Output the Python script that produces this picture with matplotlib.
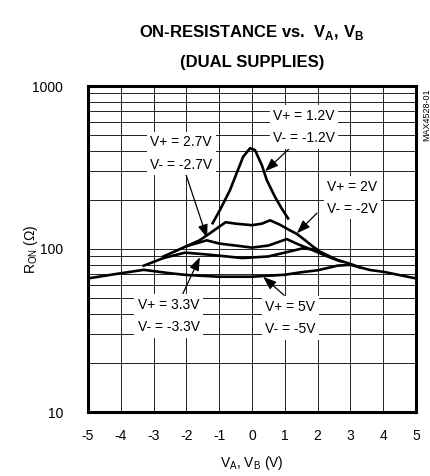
import numpy as np
import matplotlib
matplotlib.use("Agg")
import matplotlib.pyplot as plt
from matplotlib import font_manager

# fonts: narrow helvetica-like if available
names = {f.name for f in font_manager.fontManager.ttflist}
narrow = "Liberation Sans Narrow" if "Liberation Sans Narrow" in names else "Liberation Sans"
plt.rcParams["font.family"] = ["Liberation Sans", "DejaVu Sans"]
plt.rcParams["mathtext.fontset"] = "custom"
plt.rcParams["mathtext.rm"] = "Liberation Sans"
plt.rcParams["mathtext.bf"] = narrow + ":bold"

# data (x = V_A, V_B in volts, R = on-resistance in ohms)
x_12 = [-1.2, -0.98, -0.67, -0.47, -0.27, -0.06, 0.09, 0.3, 0.45, 0.7, 0.9, 1.1]
r_12 = [144, 173, 230, 291, 368, 415, 405, 327, 265, 209, 178, 154]

x_20 = [-2.0, -1.6, -1.28, -1.0, -0.8, -0.5, 0.0, 0.3, 0.55, 0.85, 1.1, 1.36, 1.6, 1.87, 2.0]
r_20 = [104, 113, 125, 137, 146, 143, 140, 143, 150, 141, 132, 124, 114, 103, 99]

x_27 = [-2.7, -2.0, -1.38, -1.0, -0.5, 0.0, 0.5, 1.06, 1.4, 1.87, 2.3, 2.7]
r_27 = [90, 104, 113, 108, 105, 102, 105, 115, 107, 98, 90, 84]

x_33 = [-3.3, -2.7, -2.04, -1.5, -1.0, -0.3, 0.5, 1.0, 1.55, 1.95, 2.58, 3.0, 3.3]
r_33 = [79, 88, 95, 93, 91, 88, 90, 95, 101, 99, 86, 81, 77]

x_50 = [-5, -4.2, -3.3, -2.5, -2.0, -1.0, 0.0, 1.0, 1.5, 2.0, 2.6, 3.0, 3.6, 4.0, 5]
r_50 = [66, 70, 74.5, 71, 69.3, 67.6, 67.6, 69.5, 72, 74, 79, 80, 74.3, 72.5, 66]

x_ticks = [-5, -4, -3, -2, -1, 0, 1, 2, 3, 4, 5]
y_ticks = [10, 100, 1000]

# labels: text, text position, arrow tail, arrow head
labels = [
    ("V+ = 1.2V\nV- = -1.2V", (0.64, 560), (1.16, 417), (0.40, 300)),
    ("V+ = 2.7V\nV- = -2.7V", (-3.11, 385), (-2.04, 297), (-1.37, 117)),
    ("V+ = 2V\nV- = -2V", (2.29, 206), (1.98, 166), (1.37, 125)),
    ("V+ = 3.3V\nV- = -3.3V", (-3.48, 38.8), (-2.13, 52), (-1.59, 89)),
    ("V+ = 5V\nV- = -5V", (0.40, 37.7), (0.98, 52), (0.34, 67.5)),
]

fig = plt.figure(figsize=(4.30, 4.76), dpi=100)
ax = fig.add_axes([88 / 430, 64 / 476, 328 / 430, 326 / 476])

ax.set_yscale("log")
ax.set_xlim(-5, 5)
ax.set_ylim(10, 1000)

for xs, rs in [(x_12, r_12), (x_20, r_20), (x_27, r_27), (x_33, r_33), (x_50, r_50)]:
    ax.plot(xs, rs, color="black", lw=1.9, solid_joinstyle="round", zorder=3)

ax.set_xticks(x_ticks)
ax.set_xticklabels([str(v) for v in x_ticks])
ax.set_yticks(y_ticks)
ax.set_yticklabels([str(v) for v in y_ticks])
ax.tick_params(axis="both", which="both", length=0, labelsize=10)
ax.tick_params(axis="x", pad=12)
ax.tick_params(axis="y", pad=18)

ax.grid(True, which="both", axis="y", color="#222222", lw=0.7)
ax.grid(True, which="major", axis="x", color="#222222", lw=0.7)
for s in ax.spines.values():
    s.set_linewidth(2.2)

for txt, tpos, tail, head in labels:
    ax.annotate("", xy=head, xytext=tail,
                arrowprops=dict(arrowstyle="-|>,head_length=0.8,head_width=0.3",
                                color="black", lw=0.9, shrinkA=0, shrinkB=0),
                zorder=4)
    ax.text(tpos[0], tpos[1], txt, ha="left", va="center", fontsize=10,
            linespacing=1.75, zorder=5,
            bbox=dict(facecolor="white", edgecolor="none", pad=2.5))

ax.set_xlabel("V$_\\mathrm{A}$, V$_\\mathrm{B}$ (V)", fontsize=10, labelpad=8)
ax.set_ylabel("R$_\\mathrm{ON}$ ($\\Omega$)", fontsize=10)
ax.yaxis.set_label_coords(-0.146, 0.5)

fig.text(252 / 430, 1 - 33 / 476, "ON-RESISTANCE vs.  V$_\\mathbf{A}$, V$_\\mathbf{B}$",
         ha="center", va="center", fontsize=12, fontweight="bold", family=narrow)
fig.text(252 / 430, 1 - 62 / 476, "(DUAL SUPPLIES)",
         ha="center", va="center", fontsize=12, fontweight="bold", family=narrow)
fig.text(427 / 430, 1 - 115 / 476, "MAX4528-01", rotation=90, ha="center",
         va="center", fontsize=6.5)

fig.savefig("out.png", dpi=100)
